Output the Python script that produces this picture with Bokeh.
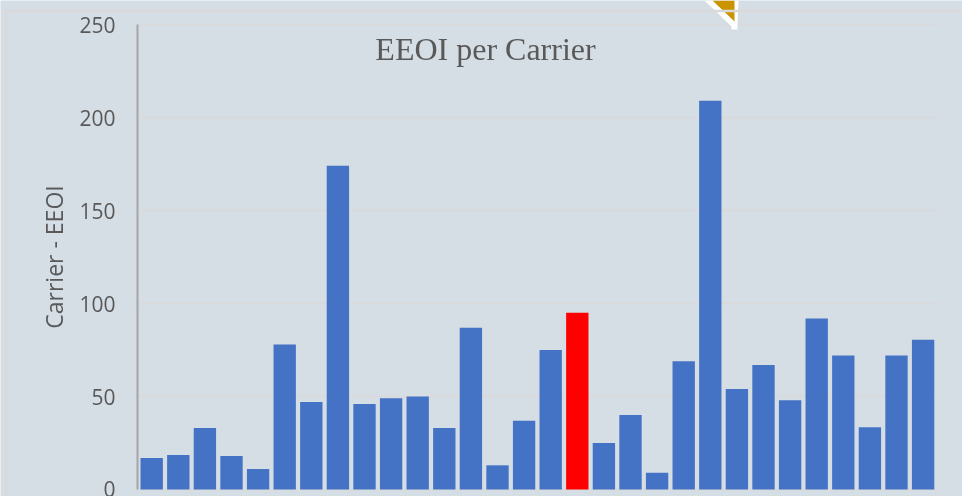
from bokeh.embed import file_html
from bokeh.resources import INLINE
from bokeh.models import Range1d, ColumnDataSource, BoxAnnotation, PolyAnnotation, Label, FixedTicker
from bokeh.plotting import figure

ticks = [0, 50, 100, 150, 200, 250]
carriers = list(range(1, 31))
eeoi = [17, 18.5, 33, 18, 11, 78, 47, 174, 46, 49, 50, 33, 87, 13, 37, 75, 95,
        25, 40, 9, 69, 209, 54, 67, 48, 92, 72, 33.5, 72, 80.5]
highlight = 17
title = "EEOI per Carrier"
ylabel = "Carrier - EEOI"

BG = "#d5dde5"
GRID = "#d9d9d9"
colors = ["#ff0000" if c == highlight else "#4472c4" for c in carriers]

W, H = 962, 496
PX_PER_CAT, PX_FIRST = 26.6, 151.2
PX_PER_VAL, PX_ZERO = 1.86, 489
def sy(y):
    return H - y

p = figure(width=W, height=H, output_backend="svg", toolbar_location=None,
           x_range=Range1d(1 - PX_FIRST / PX_PER_CAT, 1 + (W - PX_FIRST) / PX_PER_CAT),
           y_range=Range1d((PX_ZERO - H) / PX_PER_VAL, PX_ZERO / PX_PER_VAL),
           min_border_left=0, min_border_right=0, min_border_top=0, min_border_bottom=0)
p.styles = {"position": "fixed", "left": "0px", "top": "0px"}
p.background_fill_color = BG
p.border_fill_color = BG
p.outline_line_color = None

p.xaxis.visible = False
p.xgrid.visible = False
p.ygrid.visible = False

ax = p.yaxis[0]
ax.fixed_location = 0.466
ax.bounds = (0, 250)
ax.ticker = FixedTicker(ticks=ticks)
ax.axis_line_color = "#a6a6a6"
ax.axis_line_width = 2
ax.major_tick_line_color = None
ax.minor_tick_line_color = None
ax.major_tick_out = 0
ax.major_tick_in = 0
ax.major_label_text_color = "#595959"
ax.major_label_text_font = "Open Sans"
ax.major_label_text_font_size = "21px"
ax.major_label_standoff = 22
ax.axis_label = ylabel
ax.axis_label_text_color = "#595959"
ax.axis_label_text_font = "Open Sans"
ax.axis_label_text_font_size = "23px"
ax.axis_label_text_font_style = "normal"
ax.axis_label_standoff = 6

p.add_layout(PolyAnnotation(xs=[704, 738, 737, 737, 731, 731],
                            ys=[sy(v) for v in [0, 0, 24, 29, 29, 26]],
                            xs_units="screen", ys_units="screen", level="underlay",
                            fill_color="#ffffff", fill_alpha=1, line_color=None))
p.add_layout(PolyAnnotation(xs=[712, 734, 734],
                            ys=[sy(v) for v in [0, 0, 21]],
                            xs_units="screen", ys_units="screen", level="underlay",
                            fill_color="#c99400", fill_alpha=1, line_color=None))

p.segment(x0=[0.466] * len(ticks), x1=[30.5] * len(ticks), y0=ticks, y1=ticks,
          line_color=GRID, line_width=1.5, level="underlay")

src = ColumnDataSource(dict(x=carriers, y=eeoi, c=colors))
p.vbar(x="x", top="y", bottom=0, width=0.84, fill_color="c", line_color=None, source=src)

p.add_layout(BoxAnnotation(left=5.5, right=980, top=sy(10.5), bottom=-30,
                           left_units="screen", right_units="screen", top_units="screen", bottom_units="screen",
                           fill_color=None, fill_alpha=0, line_color=GRID, line_alpha=1, line_width=2.5))

p.add_layout(Label(x=485, y=sy(48), x_units="screen", y_units="screen", text=title,
                   text_font="Liberation Serif", text_font_size="32px", text_color="#595959",
                   text_align="center", text_baseline="middle"))

open("out.html", "w").write(file_html(p, INLINE))
